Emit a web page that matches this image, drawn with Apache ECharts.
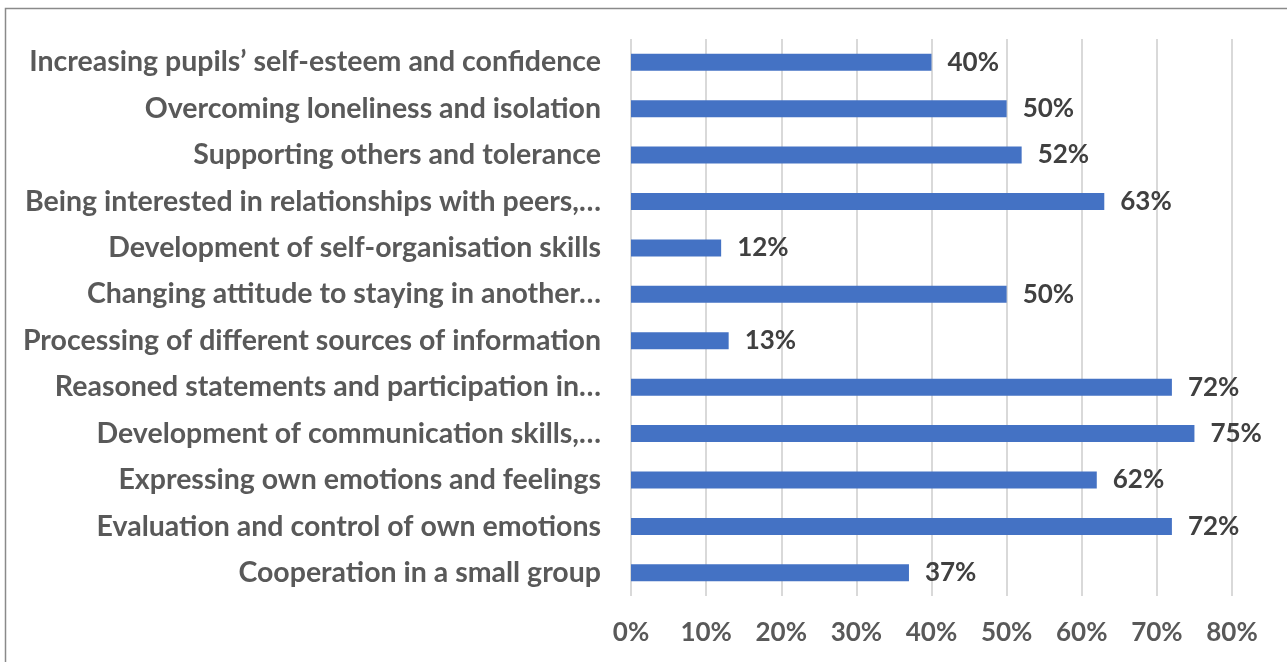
<!DOCTYPE html>
<html>
<head>
<meta charset="utf-8">
<script src="https://cdn.jsdelivr.net/npm/echarts@6/dist/echarts.min.js"></script>
<style>
  html, body { margin: 0; padding: 0; background: #fff; }
  #chart { width: 1287px; height: 662px; }
</style>
</head>
<body>
<div id="chart"></div>
<script>
// Outcomes, listed top to bottom
const categories = [
  'Increasing pupils\u2019 self-esteem and confidence',
  'Overcoming loneliness and isolation',
  'Supporting others and tolerance',
  'Being interested in relationships with peers,\u2026',
  'Development of self-organisation skills',
  'Changing attitude to staying in another\u2026',
  'Processing of different sources of information',
  'Reasoned statements and participation in\u2026',
  'Development of communication skills,\u2026',
  'Expressing own emotions and feelings',
  'Evaluation and control of own emotions',
  'Cooperation in a small group'
];
// Share of respondents, percent
const values = [40, 50, 52, 63, 12, 50, 13, 72, 75, 62, 72, 37];
// X axis range and step, percent
const axisMin = 0;
const axisMax = 80;
const axisStep = 10;

const chart = echarts.init(document.getElementById('chart'), null, { renderer: 'canvas' });
const fontFamily = 'Lato, "Open Sans", sans-serif';

chart.setOption({
  animation: false,
  backgroundColor: '#ffffff',
  graphic: [{
    type: 'rect',
    shape: { x: 5.5, y: 8.5, width: 1300, height: 700 },
    style: { fill: 'none', stroke: '#8a8a8a', lineWidth: 1.5 },
    silent: true
  }],
  grid: { left: 631, right: 55, top: 39, bottom: 66, containLabel: false },
  xAxis: {
    type: 'value',
    min: axisMin,
    max: axisMax,
    interval: axisStep,
    axisLine: { show: false },
    axisTick: { show: false },
    splitLine: { show: true, lineStyle: { color: '#d9d9d9', width: 2 } },
    axisLabel: {
      formatter: v => v + '%',
      color: '#595959',
      fontFamily: fontFamily,
      fontWeight: 'bold',
      fontSize: 26,
      margin: 24
    }
  },
  yAxis: {
    type: 'category',
    inverse: true,
    data: categories,
    axisLine: { show: false },
    axisTick: { show: false },
    axisLabel: {
      color: '#595959',
      fontFamily: fontFamily,
      fontWeight: 'bold',
      fontSize: 28.5,
      margin: 30
    }
  },
  series: [{
    type: 'bar',
    data: values,
    barWidth: 17,
    itemStyle: { color: '#4472c4' },
    label: {
      show: true,
      position: 'right',
      distance: 16,
      formatter: p => p.value + '%',
      color: '#404040',
      fontFamily: fontFamily,
      fontWeight: 'bold',
      fontSize: 26
    }
  }]
});
</script>
</body>
</html>
